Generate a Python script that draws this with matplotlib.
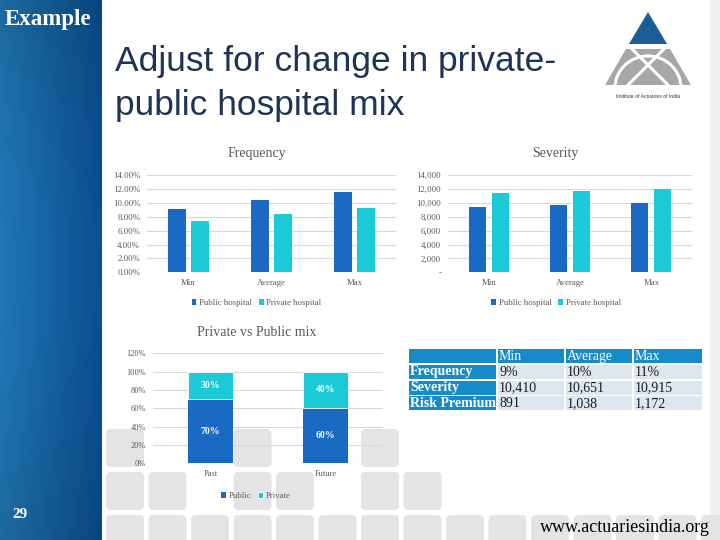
"""
Slide: adjust for change in private-public hospital mix.
Frequency / severity bars, mix stacked bars and summary table.
"""

import matplotlib

matplotlib.use("Agg")
import matplotlib.pyplot as plt
import numpy as np
from matplotlib.patches import Arc, FancyBboxPatch, Polygon, Rectangle

# ---- data ----
categories = ["Min", "Average", "Max"]
series_names = ["Public hospital", "Private hospital"]
freq_public = [9.1, 10.4, 11.5]
freq_private = [7.4, 8.4, 9.3]
sev_public = [9450, 9730, 10020]
sev_private = [11460, 11740, 11990]

mix_categories = ["Past", "Future"]
mix_names = ["Public", "Private"]
mix_public = [70, 60]
mix_private = [30, 40]

table_header = ["Min", "Average", "Max"]
table_rows = ["Frequency", "Severity", "Risk Premium"]
table_frequency = ["9%", "10%", "11%"]
table_severity = ["10,410", "10,651", "10,915"]
table_risk_premium = ["891", "1,038", "1,172"]

PUBLIC = "#1A69C3"
PRIVATE = "#1BC9D7"
GRID = "#D9D9D9"
LABEL = "#595959"
TABLE_BLUE = "#168BC9"
TABLE_CELL = "#DEE7F0"
W, H = 720, 540

plt.rcParams["font.family"] = ["Liberation Serif", "DejaVu Serif"]


def px_axes(fig, x0, y0, x1, y1):
    ax = fig.add_axes([x0 / W, 1 - y1 / H, (x1 - x0) / W, (y1 - y0) / H])
    ax.patch.set_visible(False)
    return ax


def style_axes(ax, size=6.3, xpad=5, ypad=5):
    for s in ax.spines.values():
        s.set_visible(False)
    ax.yaxis.grid(True, color=GRID, lw=0.8, zorder=0)
    ax.set_axisbelow(True)
    ax.tick_params(axis="both", length=0, labelsize=size, labelcolor=LABEL)
    ax.tick_params(axis="x", pad=xpad)
    ax.tick_params(axis="y", pad=ypad)


def grouped_bars(ax, public, private, ymax, step, fmt, width, offset):
    x = np.arange(len(categories))
    ax.bar(x - offset, public, width, color=PUBLIC, label=series_names[0], zorder=3)
    ax.bar(x + offset, private, width, color=PRIVATE, label=series_names[1], zorder=3)
    ax.set_xlim(-0.5, len(categories) - 0.5)
    ax.set_ylim(0, ymax)
    ticks = np.arange(0, ymax + step / 2, step)
    ax.set_yticks(ticks)
    ax.set_yticklabels([fmt(t) for t in ticks])
    ax.set_xticks(x)
    ax.set_xticklabels(categories)
    style_axes(ax)


def add_legend(ax, x, y):
    ax.legend(loc="center", bbox_to_anchor=(x, y), ncol=2, frameon=False,
              fontsize=6.3, handlelength=0.55, handleheight=0.55,
              handletextpad=0.3, columnspacing=0.8, labelcolor=LABEL)


def draw_background(bg):
    bg.set_xlim(0, W)
    bg.set_ylim(H, 0)
    bg.axis("off")

    # sidebar gradient
    xs = np.linspace(0, 1, 102)
    ys = np.linspace(0, 1, 540)
    left = np.array([32, 120, 180]) / 255
    right = np.array([11, 78, 142]) / 255
    img = left[None, None, :] * (1 - xs[None, :, None]) + right[None, None, :] * xs[None, :, None]
    shade = 0.88 + 0.12 * np.sin(np.pi * ys)[:, None, None]
    bg.imshow(np.clip(img * shade, 0, 1), extent=(0, 102, H, 0), aspect="auto", zorder=1)
    bg.add_patch(Rectangle((710, 0), 10, H, color="#EFEFEF", zorder=0.5))

    bg.text(5, 20, "Example", color="white", fontsize=16.5, fontweight="bold",
            va="center", ha="left", zorder=2)
    bg.text(12, 515, "29", color="white", fontsize=11, fontweight="bold",
            va="center", ha="left", zorder=2)

    # rounded square decoration
    size, pitch, x_start = 38, 42.5, 106
    rows = {429: [0, 3, 6], 472: [0, 1, 3, 4, 6, 7], 515: list(range(15))}
    for top, cols in rows.items():
        for c in cols:
            bg.add_patch(FancyBboxPatch((x_start + c * pitch, top), size, size,
                                        boxstyle="round,pad=0,rounding_size=5",
                                        color="#E4E4E4", lw=0, zorder=0.6))

    # title
    bg.text(115, 62, "Adjust for change in private-", fontsize=25.5, color="#1F3354",
            family="Liberation Sans", va="center", ha="left")
    bg.text(115, 105, "public hospital mix", fontsize=25.5, color="#1F3354",
            family="Liberation Sans", va="center", ha="left")

    # logo
    bg.add_patch(Polygon([(626, 49), (670, 49), (691, 85), (605, 85)], color="#A7A7A9", lw=0, zorder=2))
    bg.add_patch(Polygon([(648, 12), (629, 44), (667, 44)], color="#1B5E96", lw=0, zorder=2))
    bg.plot([632, 668], [49, 85], color="white", lw=2.2, zorder=3)
    bg.plot([664, 628], [49, 85], color="white", lw=2.2, zorder=3)
    bg.add_patch(Arc((648, 88), 66, 64, theta1=180, theta2=360, color="white", lw=2.2, zorder=3))
    bg.text(648, 96, "Institute of Actuaries of India", fontsize=3.6, color="#333333",
            family="Liberation Sans", ha="center", va="center")

    # chart titles
    for x, y, t in [(257, 154, "Frequency"), (555, 154, "Severity"), (257, 332, "Private vs Public mix")]:
        bg.text(x, y, t, fontsize=10, color=LABEL, ha="center", va="center")

    bg.text(710, 528, "www.actuariesindia.org", fontsize=13, color="black",
            ha="right", va="center")


def draw_table(bg):
    col_x = [(409, 496), (498, 564), (566, 632), (634, 702)]
    row_y = [(349, 362.5), (364.5, 378.5), (380.5, 394.5), (396, 410)]
    body = [table_frequency, table_severity, table_risk_premium]
    for r, (y0, y1) in enumerate(row_y):
        for c, (x0, x1) in enumerate(col_x):
            blue = r == 0 or c == 0
            bg.add_patch(Rectangle((x0, y0), x1 - x0, y1 - y0, lw=0,
                                   color=TABLE_BLUE if blue else TABLE_CELL, zorder=2))
            if r == 0 and c == 0:
                continue
            if r == 0:
                txt, col, wt = table_header[c - 1], "white", "normal"
            elif c == 0:
                txt, col, wt = table_rows[r - 1], "white", "bold"
            else:
                txt, col, wt = body[r - 1][c - 1], "#1A1A1A", "normal"
            bg.text(x0 + 1, (y0 + y1) / 2 + 0.5, txt, fontsize=10, color=col,
                    fontweight=wt, ha="left", va="center", zorder=3)


def main():
    fig = plt.figure(figsize=(W / 100, H / 100), dpi=100)
    bg = fig.add_axes([0, 0, 1, 1], zorder=0)
    draw_background(bg)
    draw_table(bg)

    ax_f = px_axes(fig, 147, 175, 396, 272.3)
    grouped_bars(ax_f, freq_public, freq_private, 14, 2, lambda v: f"{v:.2f}%", 0.22, 0.14)
    add_legend(ax_f, 0.44, -0.316)

    ax_s = px_axes(fig, 448, 175, 692, 272.3)
    grouped_bars(ax_s, sev_public, sev_private, 14000, 2000,
                 lambda v: "-" if v == 0 else f"{v:,.0f}", 0.21, 0.142)
    add_legend(ax_s, 0.443, -0.316)

    ax_m = px_axes(fig, 153, 353.3, 383, 463.3)
    x = np.arange(len(mix_categories))
    b1 = ax_m.bar(x, mix_public, 0.39, color=PUBLIC, label=mix_names[0], zorder=3)
    b2 = ax_m.bar(x, mix_private, 0.39, bottom=mix_public, color=PRIVATE,
                  label=mix_names[1], zorder=3, edgecolor="white", linewidth=0.6)
    for cont in (b1, b2):
        ax_m.bar_label(cont, fmt="{:.0f}%", label_type="center", color="white",
                       fontsize=7, fontweight="bold")
    ax_m.set_xlim(-0.5, len(mix_categories) - 0.5)
    ax_m.set_ylim(0, 120)
    ticks = np.arange(0, 121, 20)
    ax_m.set_yticks(ticks)
    ax_m.set_yticklabels([f"{t}%" for t in ticks])
    ax_m.set_xticks(x)
    ax_m.set_xticklabels(mix_categories)
    style_axes(ax_m, size=6, xpad=4.5, ypad=5)
    add_legend(ax_m, 0.448, -0.297)

    fig.savefig("out.png", dpi=100)
    plt.close(fig)


if __name__ == "__main__":
    main()
